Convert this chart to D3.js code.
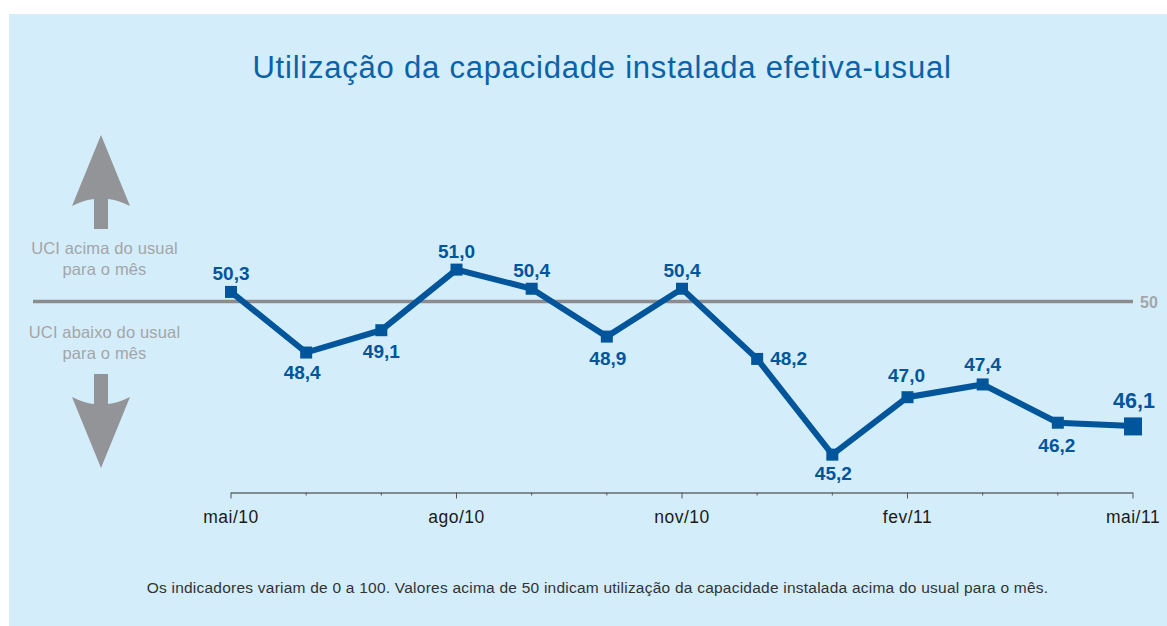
<!DOCTYPE html>
<html>
<head>
<meta charset="utf-8">
<script src="https://cdnjs.cloudflare.com/ajax/libs/d3/7.8.5/d3.min.js" charset="utf-8"></script>
<style>
html, body { margin: 0; padding: 0; background: #fff; }
text { font-family: "Liberation Sans", Arial, sans-serif; }
</style>
</head>
<body>

<div id="svg"></div>

<script>

// values
var months = ["mai/10", "jun/10", "jul/10", "ago/10", "set/10", "out/10", "nov/10", "dez/10", "jan/11", "fev/11", "mar/11", "abr/11", "mai/11"];
var values = [50.3, 48.4, 49.1, 51.0, 50.4, 48.9, 50.4, 48.2, 45.2, 47.0, 47.4, 46.2, 46.1];
var tickLabels = ["mai/10", "ago/10", "nov/10", "fev/11", "mai/11"];
var reference = 50;

var titleText = "Utilização da capacidade instalada efetiva-usual";
var footText = "Os indicadores variam de 0 a 100. Valores acima de 50 indicam utilização da capacidade instalada acima do usual para o mês.";

var w = 1167, h = 626;
var blue = "#00559b", grey = "#8c8c8e", lightGrey = "#a3a5a8";

var svg = d3.select("#svg")
    .append("svg")
    .attr("width", w)
    .attr("height", h)
    .style("display", "block");

svg.append("rect")
    .attr("x", 9).attr("y", 14)
    .attr("width", w - 9).attr("height", h - 14)
    .attr("fill", "#d4edfb");

var x = d3.scalePoint().domain(months).range([231, 1133]);
var y = d3.scaleLinear().domain([44, 52]).range([492.9, 237.7]);

svg.append("text")
    .attr("x", 602).attr("y", 78)
    .attr("text-anchor", "middle")
    .attr("font-size", 31)
    .attr("letter-spacing", 0.78)
    .attr("fill", "#0a62a8")
    .text(titleText);

// reference line at 50
svg.append("line")
    .attr("x1", 33).attr("x2", 1133)
    .attr("y1", y(reference)).attr("y2", y(reference))
    .attr("stroke", grey).attr("stroke-width", 3.4);

svg.append("text")
    .attr("x", 1140).attr("y", y(reference) + 6.5)
    .attr("font-size", 16).attr("font-weight", "bold")
    .attr("fill", lightGrey)
    .text(reference);

// arrows
svg.append("path")
    .attr("d", "M101,135L130,206Q118,200 108,199L108,229L94,229L94,199Q84,200 72,206Z")
    .attr("fill", "#939497");
svg.append("path")
    .attr("d", "M101,468L130,397Q118,403 108,404L108,374L94,374L94,404Q84,403 72,397Z")
    .attr("fill", "#939497");

var sideLabels = [
    ["UCI acima do usual", 104.5, 254],
    ["para o mês", 104.5, 275],
    ["UCI abaixo do usual", 104.5, 338],
    ["para o mês", 104.5, 359]
];
svg.selectAll(".side")
    .data(sideLabels)
    .enter()
    .append("text")
    .attr("class", "side")
    .attr("x", d => d[1]).attr("y", d => d[2])
    .attr("text-anchor", "middle")
    .attr("font-size", 16.5)
    .attr("letter-spacing", 0.15)
    .attr("fill", lightGrey)
    .text(d => d[0]);

// x axis, long ticks on the labelled months
var axis = svg.append("g")
    .attr("transform", "translate(-0.5,492.5)")
    .call(d3.axisBottom(x)
        .tickSize(3)
        .tickSizeOuter(0)
        .tickPadding(15)
        .tickFormat(d => tickLabels.includes(d) ? d : ""));

axis.select(".domain").attr("stroke", "#2b2b2b").attr("stroke-width", 1);
axis.selectAll(".tick line")
    .attr("stroke", "#555")
    .attr("y2", d => tickLabels.includes(d) ? 6 : 3);
axis.selectAll(".tick text")
    .attr("font-family", "Liberation Sans")
    .attr("font-size", 17.5)
    .attr("letter-spacing", 0.5)
    .attr("fill", "#1a1a1a");

// the line and its markers
var line = d3.line()
    .x((d, i) => x(months[i]))
    .y(d => y(d));

svg.append("path")
    .datum(values)
    .attr("d", line)
    .attr("fill", "none")
    .attr("stroke", blue)
    .attr("stroke-width", 6)
    .attr("stroke-linejoin", "miter");

var last = values.length - 1;
svg.selectAll(".mark")
    .data(values)
    .enter()
    .append("rect")
    .attr("class", "mark")
    .attr("x", (d, i) => x(months[i]) - (i == last ? 9 : 6))
    .attr("y", (d, i) => y(d) - (i == last ? 8.5 : 6))
    .attr("width", (d, i) => i == last ? 18 : 12)
    .attr("height", (d, i) => i == last ? 18 : 12)
    .attr("fill", blue);

// label offset from its point, by month index: [dx, dy]
var labelOffset = {
    0: [0, -12], 1: [-4, 26], 2: [0, 28], 3: [0, -12], 4: [0, -12], 5: [1, 28],
    6: [0, -12], 7: [13, 6], 8: [1, 25], 9: [-1, -15], 10: [0, -13], 11: [-1, 29], 12: [1, -18]
};
svg.selectAll(".val")
    .data(values)
    .enter()
    .append("text")
    .attr("class", "val")
    .attr("x", (d, i) => x(months[i]) + labelOffset[i][0])
    .attr("y", (d, i) => y(d) + labelOffset[i][1])
    .attr("text-anchor", (d, i) => i == 7 ? "start" : "middle")
    .attr("font-size", (d, i) => i == last ? 21.5 : 19)
    .attr("font-weight", "bold")
    .attr("fill", blue)
    .text(d => d.toFixed(1).replace(".", ","));

svg.append("text")
    .attr("x", 597.5).attr("y", 593)
    .attr("text-anchor", "middle")
    .attr("font-size", 15.5)
    .attr("letter-spacing", 0.23)
    .attr("fill", "#333")
    .text(footText);

</script>

</body>
</html>
